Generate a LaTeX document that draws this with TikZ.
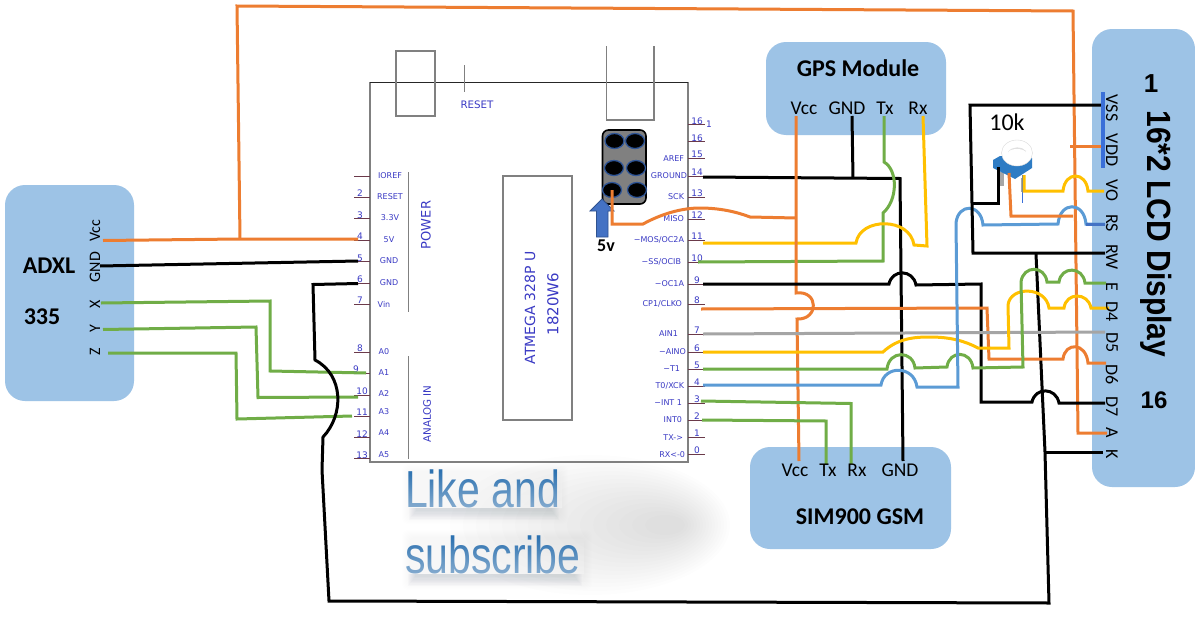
\documentclass[tikz,border=0pt]{standalone}
\usepackage{fontspec}
\usepackage{graphicx}
\setmainfont{Carlito}
\newfontfamily\dejavu{DejaVu Sans}
\newfontfamily\arial{Liberation Sans}
\usetikzlibrary{fadings,calc,shapes.geometric}
\definecolor{boxblue}{HTML}{9DC3E6}
\definecolor{wgreen}{HTML}{70AD47}
\definecolor{worange}{HTML}{ED7D31}
\definecolor{wyellow}{HTML}{FFC000}
\definecolor{wblue}{HTML}{5B9BD5}
\definecolor{wgray}{HTML}{A5A5A5}
\definecolor{pinblue}{HTML}{3A3AC4}
\definecolor{tickcol}{HTML}{6B3A4A}
\definecolor{boardline}{HTML}{808080}
\definecolor{likeblue}{HTML}{2E75B6}
\definecolor{holeblue}{HTML}{2F5597}
\definecolor{arrowblue}{HTML}{4472C4}
\definecolor{arrowedge}{HTML}{2F528F}
\definecolor{barblue}{HTML}{3A6FD8}
\definecolor{potblue}{HTML}{2E7CC4}
\newcommand{\fs}[1]{\fontsize{#1}{#1}\selectfont}
\tikzset{
  x=1pt,y=-1pt,
  every node/.style={inner sep=0pt,outer sep=0pt},
  modbox/.style={fill=boxblue,draw=none,rounded corners=20pt},
  wire/.style={line width=3pt,line join=miter},
  blk/.style={wire,draw=black},
  grn/.style={wire,draw=wgreen},
  org/.style={wire,draw=worange},
  yel/.style={wire,draw=wyellow},
  blu/.style={wire,draw=wblue},
  gry/.style={wire,draw=wgray},
  bline/.style={draw=boardline,line width=1.6pt},
  ptick/.style={draw=tickcol,line width=0.9pt},
  plabel/.style={text=pinblue,font=\dejavu\fs{8}},
  pnum/.style={text=pinblue,font=\dejavu\fs{9}},
  ttl/.style={font=\bfseries\fs{24},text=black},
  pinsm/.style={font=\fs{16},text=black,rotate=90},
  pinmd/.style={font=\fs{19.5},text=black},
  pinlcd/.style={font=\fs{18},text=black,rotate=-90},
  hole/.style={fill=black,draw=holeblue,line width=1.3pt,minimum width=19pt,minimum height=15pt,shape=ellipse},
}
\begin{document}
\begin{tikzpicture}
\useasboundingbox (0,0) rectangle (1195,624);
\fill[white] (0,0) rectangle (1195,624);

% soft grey glow behind the caption
\foreach \i in {0,...,15}{
  \fill[black,opacity=0.008] ({590+\i*5},{525}) ellipse [x radius={140-\i*8},y radius={70-\i*4}];
}

% module boxes
\path[modbox] (5,185) rectangle (134,401);
\path[modbox] (766,42) rectangle (946,135);
\path[modbox] (750,447) rectangle (951,549);
\path[modbox] (1092,29) rectangle (1195,487);

% board
\draw[bline] (370,82) -- (370,462) -- (688,462) -- (688,82);
\draw[draw=black!85,line width=1pt] (370,82) -- (688,82);
\draw[bline,line width=1.3pt] (396,51) rectangle (435,116);
\draw[bline,line width=1.3pt] (606.5,46) -- (606.5,120) -- (654,120) -- (654,46);
\draw[bline,line width=1pt] (464,65) -- (464,92);
\node[plabel,font=\dejavu\fs{10.3}] (resetlbl) at (477,105) {RESET};
\draw[bline,line width=1.3pt] (408.5,172) -- (408.5,312);
\draw[bline,line width=1.3pt] (408.5,356) -- (408.5,459);
\node[plabel,font=\dejavu\fs{13},rotate=90] (power) at (426,225) {POWER};
\node[plabel,font=\dejavu\fs{10.3},rotate=90] (analog) at (427,414) {ANALOG IN};
\draw[bline] (503,176) rectangle (572,420);
\node[plabel,font=\dejavu\fs{14},rotate=90] (chipa) at (530,308) {ATMEGA 328P U};
\node[plabel,font=\dejavu\fs{15},rotate=90] (chipb) at (553,304) {1820W6};

% left pins
\foreach \n/\ty/\ly/\txt/\lx in {
 a/176/176/IOREF/390, b/197/197/RESET/390, c/218.7/218/3.3V/390, d/240/240/5V/389,
 e/261.6/261/GND/389, f/283/283/GND/389, g/304.5/304/Vin/384,
 h/352/352/A0/384, i/373/373/A1/384, j/395/394/A2/384, k/416/412/A3/384, l/437.6/433/A4/384, m/458.7/455/A5/384}{
  \draw[ptick] (354,\ty) -- (370,\ty);
  \node[plabel] (lp\n) at (\lx,\ly) {\txt};
}
\foreach \n/\x/\y/\txt in {
 b/360/193/2, c/360/215/3, d/360/236/4, e/360/258/5, f/360/279/6, g/360/300/7,
 h/360/348/8, i/356/369/9, j/362/391/10, k/362/412/11, l/362/434/12, m/362/455/13}{
  \node[pnum] (ln\n) at (\x,\y) {\txt};
}
% right pins
\foreach \n/\ty/\txt/\rx/\num in {
 r/158.7/AREF/684/15, s/176/GROUND/687/14, t/197/SCK/684/13, u/219/MISO/684/12,
 v/240/{−MOS/OC2A}/684/11, w/262/{−SS/OCIB}/681/10, x/284/−OC1A/684/9, y/304/{CP1/CLKO}/682/8,
 z/334/AIN1/678/7, aa/352/−AINO/686/6, ab/369/−T1/680/5, ac/386/{T0/XCK}/684/4,
 ad/403/−INT 1/682/3, ae/420/INT0/682/2, af/437.6/TX->/683/1, ag/454.6/RX<-0/685/0}{
  \draw[ptick] (688,\ty) -- (705,\ty);
  \node[plabel,anchor=east] (rp\n) at (\rx,\ty) {\txt};
  \node[pnum] (rn\n) at (697,{\ty-4}) {\num};
}
\draw[ptick] (688,124.7) -- (705,124.7);
\draw[ptick] (688,141) -- (705,141);
\node[pnum] (rnp) at (697,121) {16};
\node[pnum] (rnq) at (697,138) {16};
\node[pnum] (rno) at (709,124.5) {1};

% ICSP header
\draw[black,line width=1.6pt,fill=black!50,rounded corners=6pt] (602.5,130) rectangle (646,204);
\node[hole] (h1) at (614.5,141) {};
\node[hole] (h2) at (635,141) {};
\node[hole] (h3) at (614,168) {};
\node[hole] (h4) at (636,168) {};
\node[hole] (h5) at (612,190) {};
\node[hole] (h6) at (637,190) {};
\draw[draw=arrowedge,fill=arrowblue,line width=0.8pt]
  (602,199) -- (614,211) -- (608,211) -- (608,237) -- (596.5,237) -- (596.5,211) -- (590,211) -- cycle;
\node[font=\bfseries\fs{18}] (fivev) at (606,246) {5v};

% pin end coordinates
\coordinate (axVcc) at (103,240.5);
\coordinate (axGnd) at (100,266);
\coordinate (axX) at (101,303);
\coordinate (axY) at (103,329.5);
\coordinate (axZ) at (108,353);
\coordinate (pin5V) at (358,239);
\coordinate (pinGnd) at (358,261);
\coordinate (pinGndB) at (358,283.5);
\coordinate (pinA1) at (366,373);
\coordinate (pinA2) at (358,397);
\coordinate (pinA3) at (352,416);
\coordinate (gpsVcc) at (796,116);
\coordinate (gpsGnd) at (852,116);
\coordinate (gpsTx) at (884,116);
\coordinate (gpsRx) at (923,116);
\coordinate (simVcc) at (799,461);
\coordinate (simTx) at (826,464);
\coordinate (simRx) at (851,464);
\coordinate (simGnd) at (903,461);
\coordinate (lVss) at (1102,105);
\coordinate (lVdd) at (1102,146);
\coordinate (lVo) at (1104,191);
\coordinate (lRs) at (1105,224);
\coordinate (lRw) at (1105,253);
\coordinate (lE) at (1106,283);
\coordinate (lD4) at (1109,308);
\coordinate (lD5) at (1105,332);
\coordinate (lD6) at (1106,363);
\coordinate (lD7) at (1105,403);
\coordinate (lA) at (1107,433);
\coordinate (lK) at (1103,452);

% ADXL wiring
\draw[org] (axVcc) -- (240,239) -- (pin5V);
\draw[org] (240,239) -- (237,6) -- (1073,11) -- (1078,433) -- (lA);
\draw[org] (1070,146) -- (lVdd);
\draw[blk] (axGnd) -- (pinGnd);
\draw[grn] (axX) -- (270,301) -- (270,371) -- (pinA1);
\draw[grn] (axY) -- (256,327) -- (258,397.5) -- (pinA2);
\draw[grn] (axZ) -- (236,353) -- (237,419) -- (pinA3);
\draw[blk] (pinGndB) -- (313,284.5) -- (315,360) .. controls (344,375) and (344,415) .. (323,437)
  -- (322,470) -- (329,601) -- (1049,603) -- (1045,452) -- (1036,254);
\draw[blk] (1045,452) -- (lK);

% right side wiring
\draw[blk] (703,177) -- (900,178.5) -- (simGnd);
\draw[blk] (gpsGnd) -- (853,178);
\draw[grn] (gpsTx) -- (884,162) .. controls (898,170) and (898,200) .. (883,213) -- (883,261) -- (698,262);
\draw[yel] (703,243) -- (856,243) .. controls (860,217) and (910,217) .. (914,245) -- (927,246) -- (gpsRx);
\draw[org] (612,190) -- (612,224) -- (643,224) .. controls (665,212) and (685,208) .. (700,208)
  .. controls (720,208) and (737,212) .. (750,217) -- (796,218);
\draw[org] (gpsVcc) -- (796,293) .. controls (819,290) and (819,320) .. (797,319) -- (simVcc);
\draw[blk] (703,284) -- (889,284) .. controls (892,269) and (913,269) .. (916,285) -- (981,284)
  -- (981,402) -- (1032,402) .. controls (1035,387) and (1056,387) .. (1059,403) -- (lD7);
\draw[org] (701,309) -- (987,308) -- (989,359) -- (1063,359) .. controls (1065,342) and (1086,342) .. (1088,363) -- (lD6);
\draw[gry] (703,334) -- (lD5);
\draw[yel] (703,352) -- (883,352) .. controls (898,338) and (915,337) .. (930,337)
  .. controls (950,337) and (965,341) .. (978,348) -- (1009,348) -- (1008,305)
  .. controls (1010,286) and (1046,286) .. (1049,308) -- (1064,308)
  .. controls (1066,292) and (1088,292) .. (1091,308) -- (lD4);
\draw[grn] (703,369) -- (887,369) .. controls (889,350) and (913,350) .. (915,368) -- (947,367)
  .. controls (949,350) and (971,350) .. (973,368) -- (1023,367) -- (1021,282)
  .. controls (1023,265) and (1045,265) .. (1047,282) -- (1059,282)
  .. controls (1061,266) and (1083,266) .. (1085,283) -- (lE);
\draw[blu] (703,385) -- (881,385) .. controls (884,365) and (914,365) .. (917,387) -- (958,387) -- (956,223)
  .. controls (958,203) and (981,203) .. (983,225) -- (1058,224)
  .. controls (1060,201) and (1084,201) .. (1086,224) -- (lRs);
\draw[wire,draw=arrowblue] (1086,224) -- (lRs);
\draw[grn] (701,401) -- (851,403.5) -- (simRx);
\draw[grn] (702,420) -- (826,421) -- (simTx);

% LCD contrast wiring and trimmer
\draw[blk] (lVss) -- (970,105) -- (973,253) -- (lRw);
\draw[line width=3.5pt,draw=barblue] (1103,92) -- (1103,168);
\fill[black!35] (1000,172) rectangle (1004,186);
\fill[black!35] (1021,178) rectangle (1024,192);
\draw[barblue,line width=0.8pt] (1022.5,175) -- (1022.5,203);
\path[fill=potblue] (993,160) -- (1000,156) -- (1032,158) -- (1032,168) -- (1015,179) -- (993,168) -- cycle;
\path[fill=white,draw=black!15] (1017,153) ellipse [x radius=15.5,y radius=13];
\path[fill=black!12] (1008,152) .. controls (1012,146) and (1022,146) .. (1026,151) .. controls (1022,158) and (1012,158) .. (1008,152);
\path[fill=white] (1017,153) ellipse [x radius=9,y radius=4];
\draw[blk] (998,167) -- (998,203) -- (973,203);
\draw[org] (1009,173) -- (1011,216) -- (1073,216);
\draw[yel] (1024,175) -- (1024,191) -- (1063,191) .. controls (1065,171) and (1086,171) .. (1088,191) -- (lVo);
\node[font=\fs{24}] (tenk) at (1007,122) {10k};

% caption
\node[font=\arial\fs{41},text=likeblue,anchor=base west] (like) at (405,507) {\scalebox{1}[1.27]{Like and}};
\node[font=\arial\fs{41},text=likeblue,anchor=base west] (sub) at (405,573) {\scalebox{1}[1.27]{subscribe}};
\fill[white,path fading=north,opacity=0.45] (404,468) rectangle (562,507.5);
\fill[white,path fading=north,opacity=0.45] (404,534) rectangle (584,573.5);
% caption shadow and reflection
\foreach \i in {0,...,7}{
  \fill[black,opacity=0.005,rounded corners=6pt] ({402+\i},{464+\i}) rectangle ({568-\i},{524-\i});
  \fill[black,opacity=0.005,rounded corners=6pt] ({402+\i},{530+\i}) rectangle ({592-\i},{590-\i});
  \fill[likeblue!40!black!70,opacity=0.022] ({409+\i},508) rectangle ({559-\i},{520-\i*1.3});
  \fill[likeblue!40!black!70,opacity=0.022] ({408+\i},574) rectangle ({582-\i},{586-\i*1.3});
}

% module labels
\node[ttl] (adxl) at (49,266) {ADXL};
\node[ttl] (adxlb) at (42,317) {335};
\node[pinsm] (axvcc) at (95,231) {Vcc};
\node[pinsm] (axgnd) at (95,267) {GND};
\node[pinsm] (axxl) at (95,304) {X};
\node[pinsm] (axyl) at (95,329) {Y};
\node[pinsm] (axzl) at (95,352) {Z};
\node[ttl] (gps) at (858,68) {GPS Module};
\node[pinmd] (gv) at (804,108) {Vcc};
\node[pinmd] (gg) at (847,108) {GND};
\node[pinmd] (gt) at (885,108) {Tx};
\node[pinmd] (gr) at (918,108) {Rx};
\node[ttl] (sim) at (860,517) {SIM900 GSM};
\node[pinmd] (sv) at (795,470) {Vcc};
\node[pinmd] (st) at (828,470) {Tx};
\node[pinmd] (sr) at (857,470) {Rx};
\node[pinmd] (sg) at (900,470) {GND};
\foreach \n/\y/\txt in {a/108/VSS, b/150/VDD, c/190/VO, d/223/RS, e/257/RW, f/287/E, g/312/D4, h/343/D5, i/375/D6, j/407/D7, k/433/A, l/454/K}{
  \node[pinlcd] (lcd\n) at (1112,\y) {\txt};
}
\node[font=\arial\bfseries\fs{26}] (lcdone) at (1151,84) {1};
\node[font=\arial\bfseries\fs{30},rotate=-90] (lcdt) at (1156,234) {\scalebox{1}[1.12]{16*2 LCD Display}};
\node[font=\arial\bfseries\fs{24}] (lcdsix) at (1154,400) {16};
\end{tikzpicture}
\end{document}
